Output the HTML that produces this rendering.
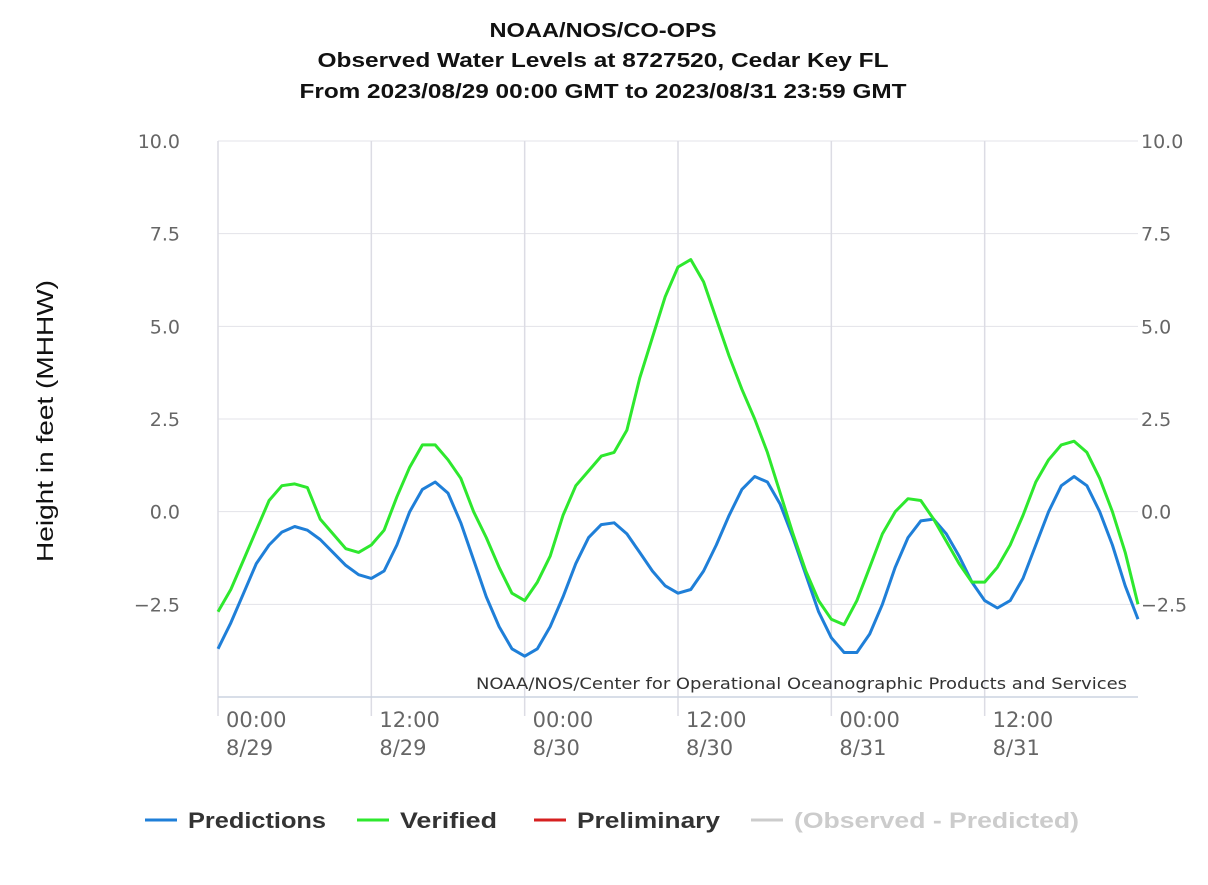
<!DOCTYPE html>
<html><head><meta charset="utf-8"><style>
body{margin:0;background:#fff;width:1208px;height:880px;overflow:hidden;font-family:"Liberation Sans",sans-serif}
</style></head><body>
<svg width="1208" height="880" xmlns="http://www.w3.org/2000/svg">
<g font-weight="bold" font-size="20" text-anchor="middle" fill="#111">
<text x="603" y="37" textLength="227" lengthAdjust="spacingAndGlyphs">NOAA/NOS/CO-OPS</text>
<text x="603" y="67" textLength="571" lengthAdjust="spacingAndGlyphs">Observed Water Levels at 8727520, Cedar Key FL</text>
<text x="603" y="98" textLength="607" lengthAdjust="spacingAndGlyphs">From 2023/08/29 00:00 GMT to 2023/08/31 23:59 GMT</text>
</g>
<text transform="translate(53,421) rotate(-90)" text-anchor="middle" font-size="23" fill="#111" textLength="282" lengthAdjust="spacingAndGlyphs">Height in feet (MHHW)</text>
<g id="grid"></g><g id="axes" font-family="'DejaVu Sans',sans-serif"></g><g id="series"></g>
<text x="1127" y="689" text-anchor="end" font-size="16" fill="#333" font-family="'DejaVu Sans',sans-serif" textLength="651" lengthAdjust="spacingAndGlyphs">NOAA/NOS/Center for Operational Oceanographic Products and Services</text>
<g font-size="22" font-weight="bold">
<g><line x1="145" y1="820" x2="177" y2="820" stroke="#1f7fd8" stroke-width="3"/><text x="188" y="828" fill="#333" textLength="138" lengthAdjust="spacingAndGlyphs">Predictions</text></g>
<g><line x1="357" y1="820" x2="389" y2="820" stroke="#2ee82e" stroke-width="3"/><text x="400" y="828" fill="#333" textLength="97" lengthAdjust="spacingAndGlyphs">Verified</text></g>
<g><line x1="534" y1="820" x2="566" y2="820" stroke="#d62020" stroke-width="3"/><text x="577" y="828" fill="#333" textLength="143" lengthAdjust="spacingAndGlyphs">Preliminary</text></g>
<g><line x1="751" y1="820" x2="783" y2="820" stroke="#ccc" stroke-width="3"/><text x="794" y="828" fill="#ccc" textLength="285" lengthAdjust="spacingAndGlyphs">(Observed - Predicted)</text></g>
</g>
</svg>
<script>
const hours=[...Array(73).keys()];
const predictions=[-3.7,-3.0,-2.2,-1.4,-0.9,-0.55,-0.4,-0.5,-0.75,-1.1,-1.45,-1.7,-1.8,-1.6,-0.9,0.0,0.6,0.8,0.5,-0.3,-1.3,-2.3,-3.1,-3.7,-3.9,-3.7,-3.1,-2.3,-1.4,-0.7,-0.35,-0.3,-0.6,-1.1,-1.6,-2.0,-2.2,-2.1,-1.6,-0.9,-0.1,0.6,0.95,0.8,0.2,-0.7,-1.7,-2.7,-3.4,-3.8,-3.8,-3.3,-2.5,-1.5,-0.7,-0.25,-0.2,-0.6,-1.2,-1.9,-2.4,-2.6,-2.4,-1.8,-0.9,0.0,0.7,0.95,0.7,0.0,-0.9,-2.0,-2.9];
const verified=[-2.7,-2.1,-1.3,-0.5,0.3,0.7,0.75,0.65,-0.2,-0.6,-1.0,-1.1,-0.9,-0.5,0.4,1.2,1.8,1.8,1.4,0.9,0.0,-0.7,-1.5,-2.2,-2.4,-1.9,-1.2,-0.1,0.7,1.1,1.5,1.6,2.2,3.6,4.7,5.8,6.6,6.8,6.2,5.2,4.2,3.3,2.5,1.6,0.5,-0.6,-1.6,-2.4,-2.9,-3.05,-2.4,-1.5,-0.6,0.0,0.35,0.3,-0.2,-0.8,-1.4,-1.9,-1.9,-1.5,-0.9,-0.1,0.8,1.4,1.8,1.9,1.6,0.9,0.0,-1.1,-2.5];
const yTicks=[10.0,7.5,5.0,2.5,0.0,-2.5];
const yTickLabels=["10.0","7.5","5.0","2.5","0.0","\u22122.5"];
const xTicks=[0,12,24,36,48,60];
const xTimeLabels=["00:00","12:00","00:00","12:00","00:00","12:00"];
const xDateLabels=["8/29","8/29","8/30","8/30","8/31","8/31"];
const X0=218,X1=1138,Y0=141,Y1=697;
const xs=h=>X0+(X1-X0)*h/72;
const ys=v=>Y0+(Y1-Y0)*(10-v)/15;
const NS="http://www.w3.org/2000/svg";
function mk(tag,attrs,parent){const e=document.createElementNS(NS,tag);for(const k in attrs)e.setAttribute(k,attrs[k]);parent.appendChild(e);return e;}
const grid=document.getElementById('grid'),axes=document.getElementById('axes'),series=document.getElementById('series');
yTicks.forEach((v,i)=>{
 const l=mk('line',{x1:X0,x2:X1,y1:ys(v),y2:ys(v),stroke:'#e3e3e8','stroke-width':1},grid);
 
 
 const t=mk('text',{x:180,y:ys(v)+7,'text-anchor':'end','font-size':19,fill:'#666'},axes);t.textContent=yTickLabels[i];
 
 
 const t2=mk('text',{x:1141,y:ys(v)+7,'font-size':19,fill:'#666'},axes);t2.textContent=yTickLabels[i];
 
 
});
xTicks.forEach((h,i)=>{
 const l=mk('line',{x1:xs(h),x2:xs(h),y1:Y0,y2:716,stroke:'#dcdce4','stroke-width':1.5},grid);
 
 
 const t=mk('text',{x:xs(h)+8,y:727,'font-size':21,fill:'#666'},axes);t.textContent=xTimeLabels[i];
 
 
 const t2=mk('text',{x:xs(h)+8,y:755,'font-size':21,fill:'#666'},axes);t2.textContent=xDateLabels[i];
 
 
});
const bl=mk('line',{x1:X0,x2:X1,y1:Y1,y2:Y1,stroke:'#ccd3e0','stroke-width':1.5},axes);


function path(vals,color,name){
 const d=vals.map((v,i)=>(i?'L':'M')+xs(hours[i]).toFixed(1)+','+ys(v).toFixed(1)).join('');
 const p=mk('path',{d:d,fill:'none',stroke:color,'stroke-width':3,'stroke-linejoin':'round'},series);
 
 
}
path(predictions,'#1f7fd8','predictions-line');
path(verified,'#2ee82e','verified-line');
</script>
</body></html>
